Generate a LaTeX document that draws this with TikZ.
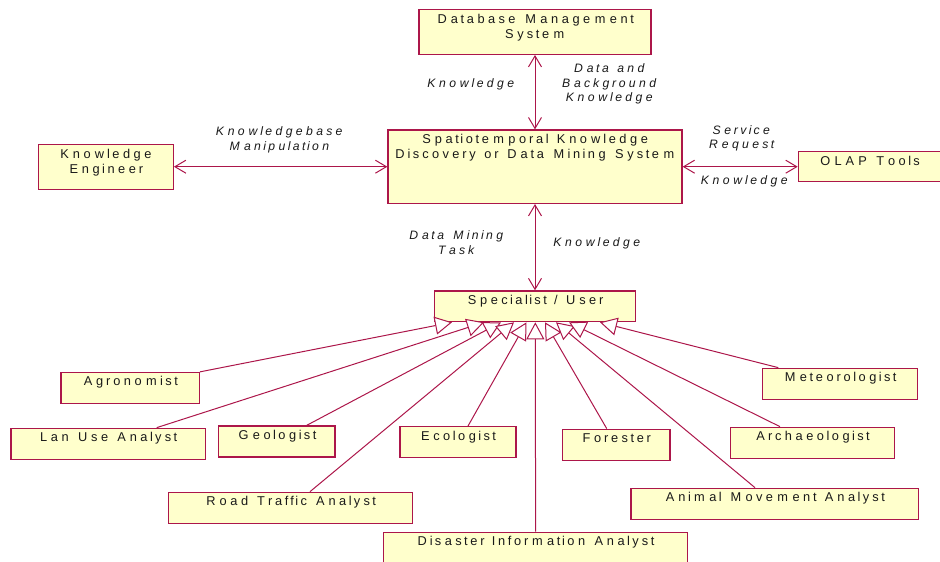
\documentclass[tikz,border=0pt]{standalone}
\usepackage{fontspec}
\setmainfont{Liberation Sans}
\usetikzlibrary{arrows.meta}
\definecolor{boxfill}{RGB}{255,255,204}
\definecolor{edge}{RGB}{172,22,74}
\ExplSyntaxOn
\cs_new_protected:Npn \spaced #1
 {
   \seq_set_split:Nnn \l_tmpa_seq { ~ } { #1 }
   \seq_map_indexed_inline:Nn \l_tmpa_seq
     {
       \int_compare:nNnT {##1} > {1} { \hspace*{1.5\fontdimen2\font} }
       \tl_map_inline:nn {##2} { \makebox[1.5\width][c]{####1} }
     }
 }
\ExplSyntaxOff
\begin{document}
\begin{tikzpicture}[x=1pt,y=-1pt,
  box/.style={draw=edge, fill=boxfill, line width=1.3pt, inner sep=0pt, rectangle},
  txt/.style={font=\fontsize{12.8}{14.8}\selectfont, align=center, inner sep=0pt, anchor=north, text=black!90},
  lbl/.style={font=\fontsize{12.2}{14.8}\selectfont\itshape, align=center, inner sep=0pt, anchor=north, text=black!90},
  link/.style={draw=edge, line width=1pt},
  bi/.style={link, {Straight Barb[length=11pt,width=13pt]}-{Straight Barb[length=11pt,width=13pt]}},
  gen/.style={link, -{Triangle[length=17pt,width=18pt,fill=white]}},
]
\useasboundingbox (0,0) rectangle (940,562);

% main boxes
\node[box, minimum width=232pt, minimum height=45pt] (db) at (535,31.8) {};
\node[txt] (dbt) at ([yshift=-5.5pt]db.north) {\spaced{Database Management}\\\spaced{System}};

\node[box, minimum width=294pt, minimum height=73.3pt] (st) at (535,166.7) {};
\node[txt] (stt) at ([yshift=-5pt]st.north) {\spaced{Spatiotemporal Knowledge}\\\spaced{Discovery or Data Mining System}};

\node[box, minimum width=135pt, minimum height=45pt] (ke) at (105.8,166.7) {};
\node[txt] (ket) at ([yshift=-5.5pt]ke.north) {\spaced{Knowledge}\\\spaced{Engineer}};

\node[box, minimum width=142.7pt, minimum height=30pt] (olap) at (869.7,166.7) {};
\node[txt] (olapt) at ([yshift=-5pt]olap.north) {\spaced{OLAP Tools}};

\node[box, minimum width=201.4pt, minimum height=30.7pt] (spec) at (535,306.3) {};
\node[txt] (spect) at ([yshift=-5pt]spec.north) {\spaced{Specialist / User}};

% specialists
\node[box, minimum width=138.3pt, minimum height=31pt] (agr) at (130.2,388) {};
\node[txt] (agrt) at ([yshift=-4.5pt]agr.north) {\spaced{Agronomist}};

\node[box, minimum width=194.7pt, minimum height=31pt] (lan) at (108.3,443.8) {};
\node[txt] (lant) at ([yshift=-4.5pt]lan.north) {\spaced{Lan Use Analyst}};

\node[box, minimum width=116.7pt, minimum height=31pt] (geo) at (276.7,441.5) {};
\node[txt] (geot) at ([yshift=-4.5pt]geo.north) {\spaced{Geologist}};

\node[box, minimum width=116pt, minimum height=31pt] (eco) at (458,442.2) {};
\node[txt] (ecot) at ([yshift=-4.5pt]eco.north) {\spaced{Ecologist}};

\node[box, minimum width=244.4pt, minimum height=31pt] (road) at (290.5,507.8) {};
\node[txt] (roadt) at ([yshift=-4.5pt]road.north) {\spaced{Road Traffic Analyst}};

\node[box, minimum width=155pt, minimum height=31pt] (met) at (839.8,383.8) {};
\node[txt] (mett) at ([yshift=-4.5pt]met.north) {\spaced{Meteorologist}};

\node[box, minimum width=107.3pt, minimum height=31pt] (for) at (616.3,444.7) {};
\node[txt] (fort) at ([yshift=-4.5pt]for.north) {\spaced{Forester}};

\node[box, minimum width=163.6pt, minimum height=31pt] (arc) at (812.5,442.8) {};
\node[txt] (arct) at ([yshift=-4.5pt]arc.north) {\spaced{Archaeologist}};

\node[box, minimum width=287.7pt, minimum height=31pt] (ani) at (774.8,503.8) {};
\node[txt] (anit) at ([yshift=-4.5pt]ani.north) {\spaced{Animal Movement Analyst}};

\node[box, minimum width=304pt, minimum height=33pt] (dis) at (535.3,548.8) {};
\node[txt] (dist) at ([yshift=-4.5pt]dis.north) {\spaced{Disaster Information Analyst}};

% bidirectional connectors
\draw[bi] (db.south) -- (st.north);
\draw[bi] (ke.east) -- (st.west);
\draw[bi] (st.east) -- (olap.west);
\draw[bi] (st.south) -- (spec.north);

% generalisations
\draw[gen] (agr.north east) -- ([xshift=-83pt]spec.south);
\draw[gen] ([xshift=48.4pt]lan.north) -- ([xshift=-51pt]spec.south);
\draw[gen] ([xshift=30pt]geo.north) -- ([xshift=-34pt]spec.south);
\draw[gen] ([xshift=19.5pt]road.north) -- ([xshift=-21pt]spec.south);
\draw[gen] ([xshift=10pt]eco.north) -- ([xshift=-8.5pt]spec.south);
\draw[gen] ([xshift=-9.6pt]for.north) -- ([xshift=10pt]spec.south);
\draw[gen] ([xshift=-19.8pt]ani.north) -- ([xshift=21pt]spec.south);
\draw[gen] ([xshift=-32.5pt]arc.north) -- ([xshift=34pt]spec.south);
\draw[gen] ([xshift=-61.5pt]met.north) -- ([xshift=65pt]spec.south);
\draw[gen] ([xshift=0.3pt]dis.north) -- ([xshift=0.3pt]spec.south);

% connector labels
\node[lbl] (kn1) at (470.5,78.3) {\spaced{Knowledge}};
\node[lbl] (dab) at (609,63.3) {\spaced{Data and}\\\spaced{Background}\\\spaced{Knowledge}};
\node[lbl] (kbm) at (279,126.7) {\spaced{Knowledgebase}\\\spaced{Manipulation}};
\node[lbl] (sr) at (741,125) {\spaced{Service}\\\spaced{Request}};
\node[lbl] (kn2) at (744,175) {\spaced{Knowledge}};
\node[lbl] (dmt) at (456,230.7) {\spaced{Data Mining}\\\spaced{Task}};
\node[lbl] (kn3) at (596.5,237.3) {\spaced{Knowledge}};
\end{tikzpicture}
\end{document}
